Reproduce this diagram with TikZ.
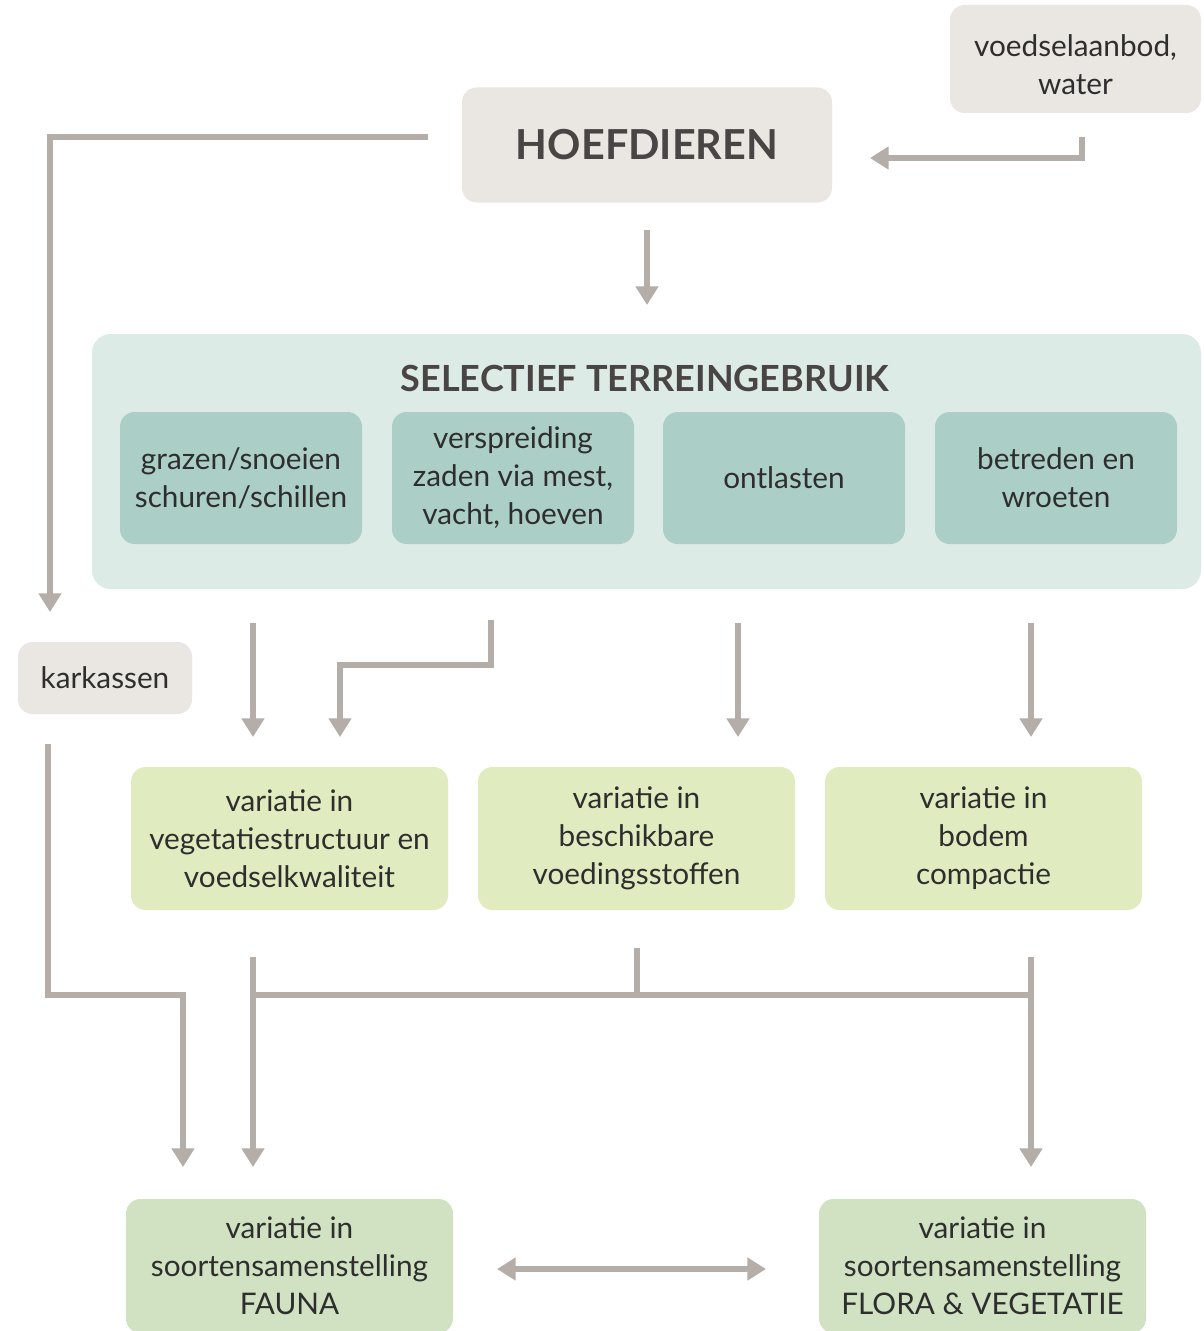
\documentclass[tikz,border=0pt]{standalone}
\usepackage{fontspec}
\setmainfont{Lato}
\usetikzlibrary{arrows.meta}
\definecolor{greybox}{HTML}{EAE6E2}
\definecolor{arrowc}{HTML}{B5ADA8}
\definecolor{tealbg}{HTML}{DDEBE7}
\definecolor{tealbox}{HTML}{ABCFC6}
\definecolor{lgreen}{HTML}{E1EBC0}
\definecolor{mgreen}{HTML}{D0E2C1}
\definecolor{txt}{HTML}{2E2E2E}
\definecolor{titletxt}{HTML}{4A4545}
\tikzset{
  box/.style={rounded corners=11pt, inner sep=0pt, align=center, text=txt,
    font=\fontsize{22.3}{28.5}\selectfont},
  gbox/.style={box, fill=greybox},
  tbox/.style={box, fill=tealbox, minimum width=242*0.75pt, minimum height=132*0.75pt},
  lbox/.style={box, fill=lgreen, minimum width=317*0.75pt, minimum height=143*0.75pt},
  bbox/.style={box, fill=mgreen, minimum width=327*0.75pt, minimum height=134*0.75pt},
  conn/.style={draw=arrowc, line width=4.5pt},
  arr/.style={conn, -{Triangle[width=16.5pt,length=14pt]}},
  darr/.style={conn, {Triangle[width=16.5pt,length=14pt]}-{Triangle[width=16.5pt,length=14pt]}},
}
\begin{document}
\begin{tikzpicture}[x=0.75pt,y=-0.75pt]
\useasboundingbox[fill=white] (0,0) rectangle (1203,1331);
% top
\node[gbox, minimum width=251*0.75pt, minimum height=108*0.75pt] (voed) at (1075.5,59) {};
\node[box] (voedt) at ([yshift=-4.5pt]voed.center) {voedselaanbod,\\water};
\node[gbox, minimum width=370*0.75pt, minimum height=115*0.75pt, font=\fontsize{31}{36}\bfseries\selectfont, text=titletxt] (hoef) at (647,145) {HOEFDIEREN};
% selectief
\node[fill=tealbg, rounded corners=14pt, minimum width=1109*0.75pt, minimum height=255*0.75pt, inner sep=0pt] (sel) at (646.5,461.5) {};
\node[font=\fontsize{27}{30}\bfseries\selectfont, text=titletxt, inner sep=0pt] (selt) at (645,378) {SELECTIEF TERREINGEBRUIK};
\node[tbox] (t1) at (241,478) {grazen/snoeien\\schuren/schillen};
\node[tbox] (t2) at (513,478) {verspreiding\\zaden via mest,\\vacht, hoeven};
\node[tbox] (t3) at (784,478) {ontlasten};
\node[tbox] (t4) at (1056,478) {betreden en\\wroeten};
% karkassen
\node[gbox, minimum width=174*0.75pt, minimum height=72*0.75pt] (kark) at (105,678) {karkassen};
% middle
\node[lbox] (m1) at (289.5,838.5) {variatie in\\vegetatiestructuur en\\voedselkwaliteit};
\node[lbox] (m2) at (636.5,838.5) {variatie in\\beschikbare\\voedingsstoffen};
\node[lbox] (m3) at (983.5,838.5) {variatie in\\bodem\\compactie};
% bottom
\node[bbox] (b1) at (289.5,1266) {variatie in\\soortensamenstelling\\FAUNA};
\node[bbox] (b2) at (982.5,1266) {variatie in\\soortensamenstelling\\FLORA \& VEGETATIE};
% coordinates
\coordinate (a1s) at (428,137); \coordinate (a1e) at (50,612);
\coordinate (a2s) at (1082,137); \coordinate (a2c) at (1082,158); \coordinate (a2e) at (870,158);
\coordinate (a3s) at (647,230); \coordinate (a3e) at (647,305);
\coordinate (a4s) at (253,623); \coordinate (a4e) at (253,737);
\coordinate (a5s) at (491,620); \coordinate (a5c) at (491,665); \coordinate (a5e) at (340,737);
\coordinate (a6s) at (738,623); \coordinate (a6e) at (738,737);
\coordinate (a7s) at (1031,623); \coordinate (a7e) at (1031,737);
\coordinate (a8s) at (48,744); \coordinate (a8c) at (48,995); \coordinate (a8e) at (183,1167);
\coordinate (a9s) at (253,957); \coordinate (a9e) at (253,1167);
\coordinate (h1) at (253,995); \coordinate (h2) at (1031,995);
\coordinate (a10s) at (637,948); \coordinate (a10e) at (637,995);
\coordinate (a11s) at (1031,957); \coordinate (a11e) at (1031,1167);
\coordinate (d1) at (497,1269); \coordinate (d2) at (766,1269);
% connectors
\draw[arr] (a1s) -| (a1e);
\draw[arr] (a2s) -- (a2c) -- (a2e);
\draw[arr] (a3s) -- (a3e);
\draw[arr] (a4s) -- (a4e);
\draw[arr] (a5s) -- (a5c) -| (a5e);
\draw[arr] (a6s) -- (a6e);
\draw[arr] (a7s) -- (a7e);
\draw[arr] (a8s) -- (a8c) -| (a8e);
\draw[arr] (a9s) -- (a9e);
\draw[conn] (h1) -- (h2);
\draw[conn] (a10s) -- (a10e);
\draw[arr] (a11s) -- (a11e);
\draw[darr] (d1) -- (d2);
\end{tikzpicture}
\end{document}
